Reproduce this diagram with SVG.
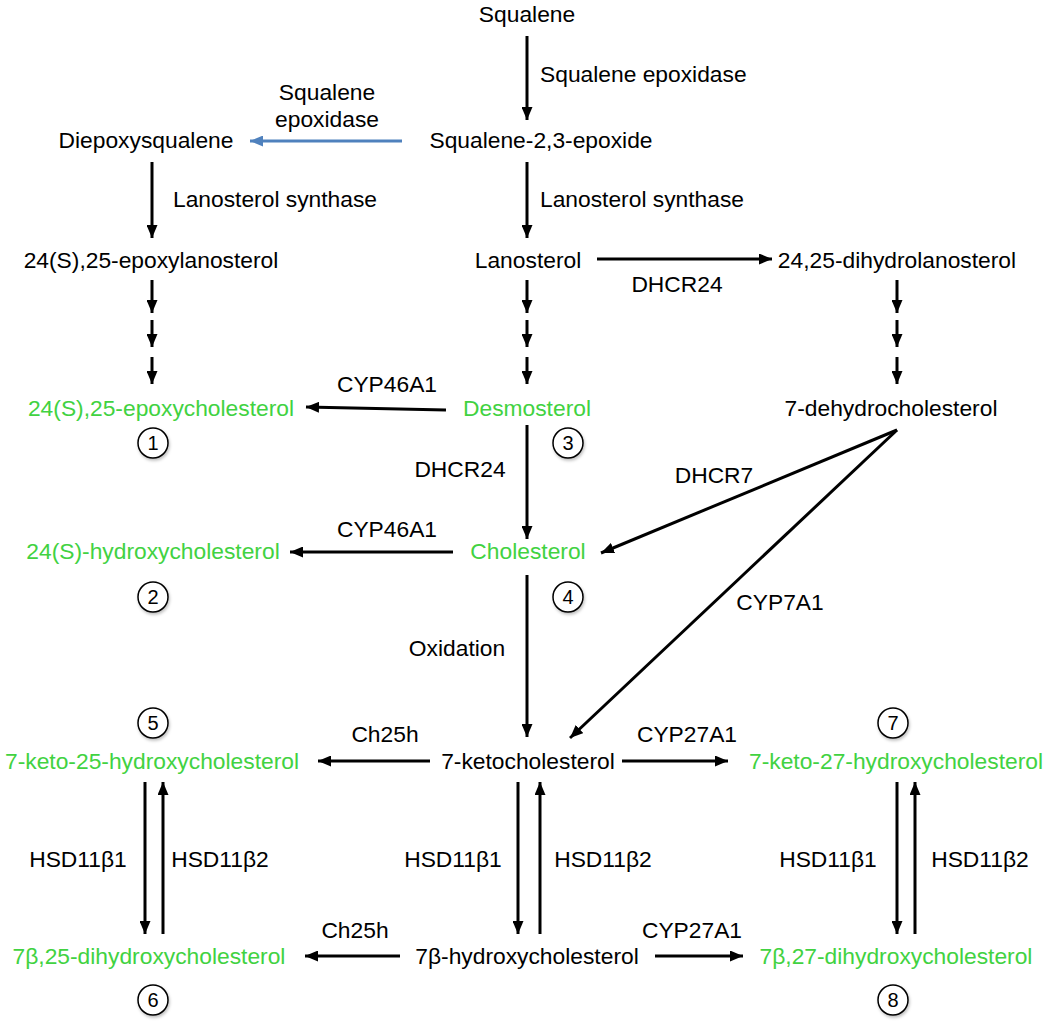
<svg xmlns="http://www.w3.org/2000/svg" width="1050" height="1028" viewBox="0 0 1050 1028">
<style>
text{font-family:"Liberation Sans",Arial,sans-serif;font-size:22.8px;fill:#000;text-anchor:middle}
.g{fill:#41d241}
.s{text-anchor:start}
.e{text-anchor:end}
.c{font-size:20px}
line{stroke:#000;stroke-width:3;fill:none}
line.a{marker-end:url(#ah)}
line.b{stroke:#4f81bd;marker-end:url(#bh)}
circle{fill:#fff;stroke:#000;stroke-width:1.5}
</style>
<defs>
<marker id="ah" markerUnits="userSpaceOnUse" markerWidth="13" markerHeight="11" refX="13" refY="5.5" orient="auto"><path d="M0,0 L13,5.5 L0,11 z" fill="#000"/></marker>
<marker id="bh" markerUnits="userSpaceOnUse" markerWidth="13" markerHeight="11" refX="13" refY="5.5" orient="auto"><path d="M0,0 L13,5.5 L0,11 z" fill="#4f81bd"/></marker>
<filter id="sh" x="-30%" y="-30%" width="160%" height="160%"><feDropShadow dx="1" dy="2" stdDeviation="1.5" flood-color="#000" flood-opacity="0.25"/></filter>
</defs>
<g id="connectors">
<line class="a" x1="527" y1="36" x2="527" y2="120"/>
<line class="b" x1="402" y1="141" x2="250" y2="141"/>
<line class="a" x1="152" y1="162" x2="152" y2="238"/>
<line class="a" x1="527" y1="162" x2="527" y2="238"/>
<line class="a" x1="597" y1="259" x2="772" y2="259"/>
<line class="a" x1="152" y1="280" x2="152" y2="313"/>
<line class="a" x1="152" y1="320" x2="152" y2="347"/>
<line class="a" x1="152" y1="357" x2="152" y2="384"/>
<line class="a" x1="527" y1="280" x2="527" y2="313"/>
<line class="a" x1="527" y1="320" x2="527" y2="347"/>
<line class="a" x1="527" y1="357" x2="527" y2="384"/>
<line class="a" x1="897" y1="280" x2="897" y2="313"/>
<line class="a" x1="897" y1="320" x2="897" y2="347"/>
<line class="a" x1="897" y1="357" x2="897" y2="384"/>
<line class="a" x1="446" y1="410" x2="306" y2="407"/>
<line class="a" x1="527" y1="425" x2="527" y2="539"/>
<line class="a" x1="453" y1="552" x2="290" y2="552"/>
<line class="a" x1="897" y1="430" x2="601" y2="553"/>
<line class="a" x1="897" y1="430" x2="570" y2="738"/>
<line class="a" x1="527" y1="575" x2="527" y2="737"/>
<line class="a" x1="430" y1="761" x2="318" y2="761"/>
<line class="a" x1="622" y1="761" x2="728" y2="761"/>
<line class="a" x1="145" y1="782" x2="145" y2="934"/>
<line class="a" x1="163" y1="934" x2="163" y2="782"/>
<line class="a" x1="518" y1="782" x2="518" y2="934"/>
<line class="a" x1="540" y1="934" x2="540" y2="782"/>
<line class="a" x1="897" y1="782" x2="897" y2="934"/>
<line class="a" x1="915" y1="934" x2="915" y2="782"/>
<line class="a" x1="400" y1="956" x2="305" y2="956"/>
<line class="a" x1="655" y1="956" x2="743" y2="956"/>
</g>
<g id="labels">
<text class="s" x="540" y="82">Squalene epoxidase</text>
<text x="327" y="100">Squalene</text>
<text x="327" y="127">epoxidase</text>
<text class="s" x="173" y="207">Lanosterol synthase</text>
<text class="s" x="540" y="207">Lanosterol synthase</text>
<text x="677" y="292">DHCR24</text>
<text x="387" y="392">CYP46A1</text>
<text x="460" y="477">DHCR24</text>
<text x="387" y="537">CYP46A1</text>
<text x="714" y="483">DHCR7</text>
<text x="780" y="610">CYP7A1</text>
<text x="457" y="656">Oxidation</text>
<text x="385" y="742">Ch25h</text>
<text x="687" y="742">CYP27A1</text>
<text x="78" y="867">HSD11β1</text>
<text x="220" y="867">HSD11β2</text>
<text x="453" y="867">HSD11β1</text>
<text x="603" y="867">HSD11β2</text>
<text x="828" y="867">HSD11β1</text>
<text x="980" y="867">HSD11β2</text>
<text x="355" y="938">Ch25h</text>
<text x="692" y="938">CYP27A1</text>
</g>
<g id="n-squalene"><text x="527" y="22">Squalene</text></g>
<g id="n-epoxide"><text x="541" y="148">Squalene-2,3-epoxide</text></g>
<g id="n-diepoxy"><text x="146" y="148">Diepoxysqualene</text></g>
<g id="n-epoxylanosterol"><text x="151" y="268">24(S),25-epoxylanosterol</text></g>
<g id="n-lanosterol"><text x="528" y="268">Lanosterol</text></g>
<g id="n-dihydrolanosterol"><text x="897" y="268">24,25-dihydrolanosterol</text></g>
<g id="n-epoxycholesterol"><text class="g" x="161" y="416">24(S),25-epoxycholesterol</text><circle filter="url(#sh)" cx="153" cy="443" r="15"/><text class="c" x="153" y="450">1</text></g>
<g id="n-desmosterol"><text class="g" x="527" y="416">Desmosterol</text><circle filter="url(#sh)" cx="568" cy="443" r="15"/><text class="c" x="568" y="450">3</text></g>
<g id="n-7dhc"><text x="891" y="416">7-dehydrocholesterol</text></g>
<g id="n-24hc"><text class="g" x="153" y="559">24(S)-hydroxycholesterol</text><circle filter="url(#sh)" cx="153" cy="597" r="15"/><text class="c" x="153" y="604">2</text></g>
<g id="n-cholesterol"><text class="g" x="528" y="559">Cholesterol</text><circle filter="url(#sh)" cx="568" cy="597" r="15"/><text class="c" x="568" y="604">4</text></g>
<g id="n-7k25hc"><circle filter="url(#sh)" cx="153" cy="723" r="15"/><text class="c" x="153" y="730">5</text><text class="g" x="152" y="769">7-keto-25-hydroxycholesterol</text></g>
<g id="n-7kc"><text x="528" y="769">7-ketocholesterol</text></g>
<g id="n-7k27hc"><circle filter="url(#sh)" cx="893" cy="723" r="15"/><text class="c" x="893" y="730">7</text><text class="g" x="896" y="769">7-keto-27-hydroxycholesterol</text></g>
<g id="n-7b25dhc"><text class="g" x="149" y="964">7β,25-dihydroxycholesterol</text><circle filter="url(#sh)" cx="153" cy="1000" r="15"/><text class="c" x="153" y="1007">6</text></g>
<g id="n-7bhc"><text x="527" y="964">7β-hydroxycholesterol</text></g>
<g id="n-7b27dhc"><text class="g" x="896" y="964">7β,27-dihydroxycholesterol</text><circle filter="url(#sh)" cx="893" cy="1000" r="15"/><text class="c" x="893" y="1007">8</text></g>
</svg>
